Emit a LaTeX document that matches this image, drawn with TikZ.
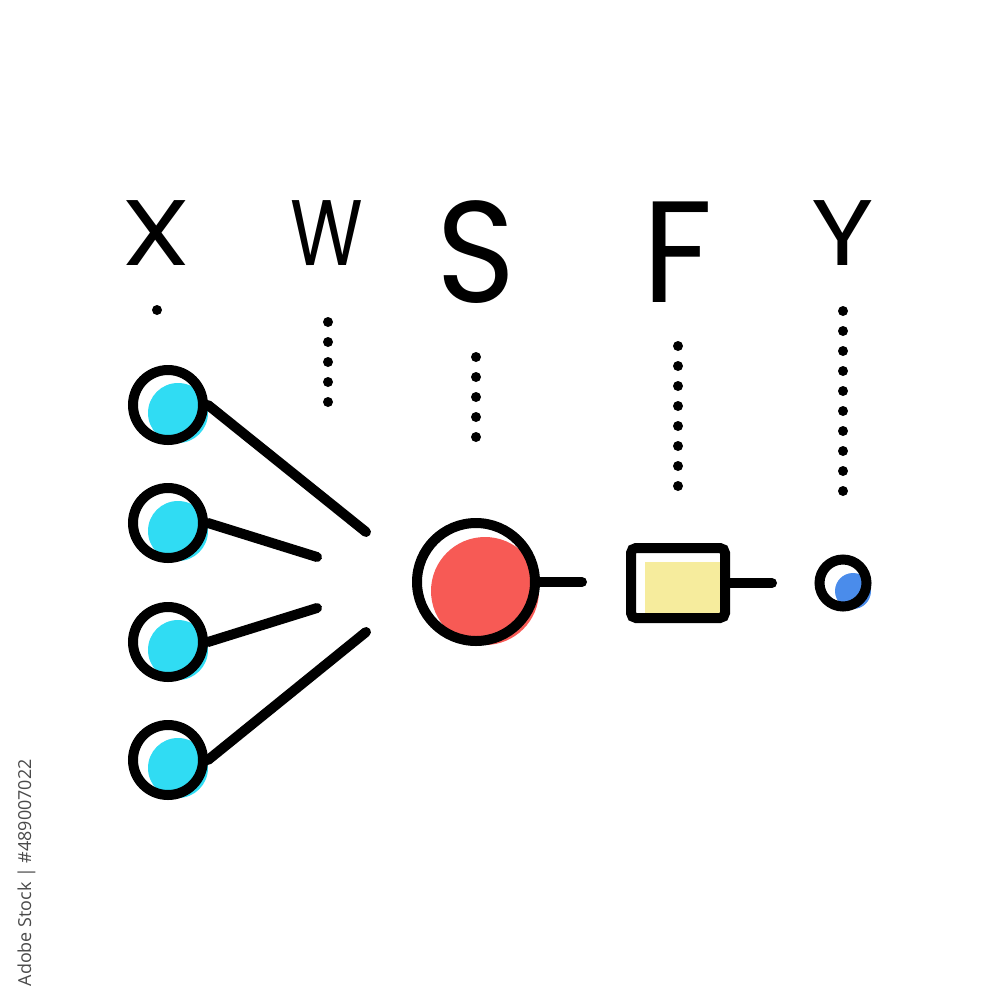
\documentclass[tikz,border=0pt]{standalone}
\usepackage{fontspec}
\newfontfamily\lettersfont{Poppins}
\newfontfamily\stockfont{Open Sans}
\usetikzlibrary{backgrounds}
\definecolor{inputcyan}{HTML}{30DCF3}
\definecolor{sumred}{HTML}{F75A55}
\definecolor{actyellow}{HTML}{F6EC9D}
\definecolor{outblue}{HTML}{4A8CEB}
\definecolor{stockgray}{HTML}{4A4A4A}
\begin{document}
\begin{tikzpicture}[x=0.1mm, y=-0.1mm,
    ring/.style={draw, circle, line width=1mm, inner sep=0pt},
    inp/.style={ring, minimum size=7mm},
    link/.style={line width=1mm, line cap=round},
    letter/.style={anchor=base, inner sep=0pt, font=\lettersfont\fontsize{26.5pt}{30pt}\selectfont}]
    \useasboundingbox (0,0) rectangle (1000,1000);
    % letters on top
    \node[letter] (lx) at (156,265) {\scalebox{1.2}[1]{X}};
    \node[letter] (lw) at (327,265) {\scalebox{0.8}[1]{W}};
    \node[letter] (ls) at (476,302) {\scalebox{1.45}[1.55]{S}};
    \node[letter] (lf) at (678,302) {\scalebox{1.5}[1.55]{F}};
    \node[letter] (ly) at (843,265) {\scalebox{1.15}[1]{Y}};
    % dotted columns
    \foreach \x/\y/\n in {157/310/1, 328/322/5, 476/357/5, 678/346/8, 843/311/10}
        \foreach \k in {1,...,\n}
            \fill (\x,\y+20*\k-20) circle (0.5mm);
    % inputs
    \foreach \i/\y in {1/405, 2/523, 3/642, 4/760}
        \node[inp] (x\i) at (168,\y) {};
    \coordinate (e1) at (366,532);
    \coordinate (e2) at (317,557);
    \coordinate (e3) at (317,608);
    \coordinate (e4) at (366,632);
    \foreach \i in {1,...,4}
        \draw[link] (x\i.east) -- (e\i);
    % sum, activation, output
    \node[ring, minimum size=11.8mm] (s) at (476,582) {};
    \coordinate (s-out) at (582,582);
    \draw[link] (s) -- (s-out);
    \node[draw, line width=1mm, rounded corners=0.5mm, minimum width=9.4mm, minimum height=7mm, inner sep=0pt] (f) at (678,583) {};
    \coordinate (f-out) at (772,583);
    \draw[link] (f) -- (f-out);
    \node[ring, minimum size=4.7mm] (y) at (843,583) {};
    % colour fills behind
    \begin{scope}[on background layer]
        \fill[white] (0,0) rectangle (1000,1000);
        \foreach \i in {1,...,4}
            \fill[inputcyan] ([shift={(10,8)}]x\i.center) circle (3mm);
        \fill[sumred] ([shift={(9,9)}]s.center) circle (5.4mm);
        \fill[actyellow] ([shift={(-33,-21)}]f.center) rectangle ([shift={(42,30)}]f.center);
        \fill[outblue] ([shift={(10,8)}]y.center) circle (1.8mm);
    \end{scope}
    \node[rotate=90, anchor=base west, inner sep=0pt, text=stockgray, font=\stockfont\fontsize{5.1pt}{6pt}\selectfont] (stock) at (31,987) {Adobe Stock | \#489007022};
\end{tikzpicture}
\end{document}
